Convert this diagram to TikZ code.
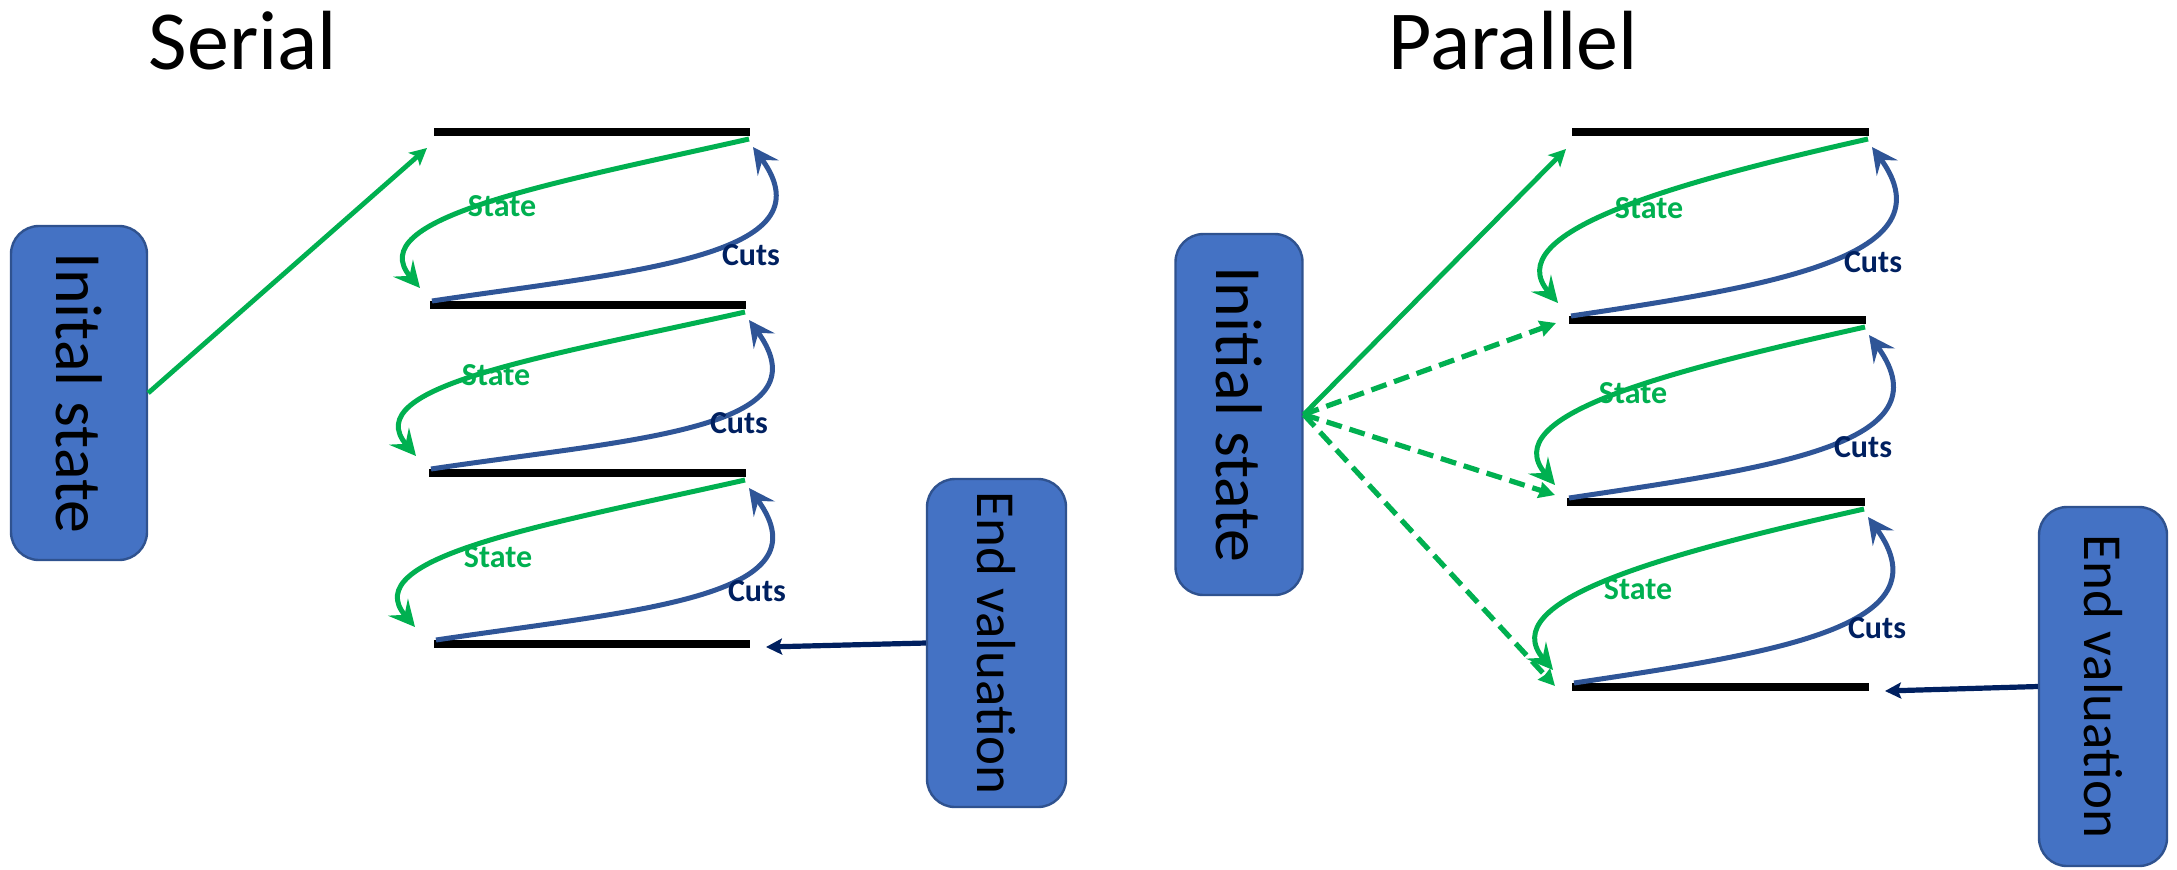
\documentclass[tikz,border=0pt]{standalone}
\usepackage{fontspec}
\setmainfont{Carlito}
\usetikzlibrary{arrows.meta,calc}
\definecolor{grn}{HTML}{00B050}
\definecolor{cutblue}{HTML}{2F5597}
\definecolor{navyc}{HTML}{002060}
\definecolor{boxfill}{HTML}{4472C4}
\definecolor{boxline}{HTML}{2F528F}
\tikzset{
  bar/.style={line width=4pt,black},
  titletext/.style={font=\fontsize{42}{50}\selectfont,anchor=base,inner sep=0pt},
  bluebox/.style={draw=boxline,fill=boxfill,line width=1.2pt,rounded corners=14pt,rotate=-90,inner sep=0pt,text=black},
  statecurve/.style={grn,line width=2.5pt,-{Stealth[length=13pt,width=13pt,inset=5pt]}},
  cutscurve/.style={cutblue,line width=2.5pt,-{Stealth[length=13pt,width=13pt,inset=5pt]}},
  initarrow/.style={grn,line width=2.4pt,-{Stealth[length=8.5pt,width=8.5pt,inset=2pt]}},
  dasharrow/.style={grn,line width=2.6pt,dash pattern=on 8pt off 4pt,-{Stealth[length=8pt,width=8pt,inset=0.5pt]}},
  endarrow/.style={navyc,line width=2.6pt,-{Stealth[length=8pt,width=8pt,inset=1.5pt]}},
  statelbl/.style={text=grn,font=\fontsize{16}{19}\selectfont\bfseries,inner sep=0pt},
  cutslbl/.style={text=navyc,font=\fontsize{16}{19}\selectfont\bfseries,inner sep=0pt},
}
\begin{document}
\begin{tikzpicture}[x=0.5pt,y=-0.5pt]
\useasboundingbox (0,0) rectangle (2177,869);

% titles
\node[titletext] (tserial) at (243,69) {Serial};
\node[titletext] (tparallel) at (1513,69) {Parallel};

% boxes
\node[bluebox,minimum width=167pt,minimum height=68pt,font=\fontsize{33}{38}\selectfont] (si) at (79,393) {Inital state};
\node[bluebox,minimum width=164pt,minimum height=69.5pt,font=\fontsize{27.5}{32}\selectfont] (se) at (996.5,643) {End valuation};
\node[bluebox,minimum width=180.5pt,minimum height=63.5pt,font=\fontsize{33}{38}\selectfont] (pi) at (1239,414.5) {Initial state};
\node[bluebox,minimum width=179.5pt,minimum height=64pt,font=\fontsize{27.5}{32}\selectfont] (pe) at (2103,686.5) {End valuation};

% bar end points
\coordinate (s1L) at (434,132); \coordinate (s1R) at (750,132);
\coordinate (s2L) at (430,305); \coordinate (s2R) at (746,305);
\coordinate (s3L) at (429,473); \coordinate (s3R) at (746,473);
\coordinate (s4L) at (434,644); \coordinate (s4R) at (750,644);
\coordinate (p1L) at (1572,132); \coordinate (p1R) at (1869,132);
\coordinate (p2L) at (1569,320); \coordinate (p2R) at (1866,320);
\coordinate (p3L) at (1567,502); \coordinate (p3R) at (1865,502);
\coordinate (p4L) at (1572,687); \coordinate (p4R) at (1869,687);

\foreach \b in {s1,s2,s3,s4,p1,p2,p3,p4}{
  \draw[bar] (\b L) -- (\b R);
}

% state / cuts curves
\foreach \p/\i/\j in {s/1/2,s/2/3,s/3/4,p/1/2,p/2/3,p/3/4}{
  \coordinate (\p\i gs) at ($(\p\i R)+(-1,7)$);
  \coordinate (\p\i ge) at ($(\p\i L |- \p\j L)+(-14,-17)$);
  \coordinate (\p\i bs) at ($(\p\j L)+(2,-4)$);
  \coordinate (\p\i be) at ($(\p\i R)+(3,15)$);
  \draw[statecurve] (\p\i gs) .. controls +(-200,45) and +(-60,-70) .. (\p\i ge);
  \draw[cutscurve] (\p\i bs) .. controls +(200,-30) and +(80,110) .. (\p\i be);
}

% labels
\node[statelbl] (sl1) at (502,206) {State};
\node[statelbl] (sl2) at (496,375) {State};
\node[statelbl] (sl3) at (498,557) {State};
\node[cutslbl] (sc1) at (751,255) {Cuts};
\node[cutslbl] (sc2) at (739,423) {Cuts};
\node[cutslbl] (sc3) at (757,591) {Cuts};
\node[statelbl] (pl1) at (1649,208) {State};
\node[statelbl] (pl2) at (1633,393) {State};
\node[statelbl] (pl3) at (1638,589) {State};
\node[cutslbl] (pc1) at (1873,262) {Cuts};
\node[cutslbl] (pc2) at (1863,447) {Cuts};
\node[cutslbl] (pc3) at (1877,628) {Cuts};

% initial state arrows
\coordinate (st1) at (427,148);
\draw[initarrow] (si.north) -- (st1);
\coordinate (pt1) at (1566,149);
\coordinate (pt2) at (1556,323);
\coordinate (pt3) at (1555,495);
\coordinate (pt4) at (1555,686);
\draw[initarrow] (pi.north) -- (pt1);
\draw[dasharrow] (pi.north) -- (pt2);
\draw[dasharrow] (pi.north) -- (pt3);
\draw[dasharrow] (pi.north) -- (pt4);

% end valuation arrows
\coordinate (se1) at (766,647);
\coordinate (pe1) at (1885,691);
\draw[endarrow] (se.south) -- (se1);
\draw[endarrow] (pe.south) -- (pe1);
\end{tikzpicture}
\end{document}
